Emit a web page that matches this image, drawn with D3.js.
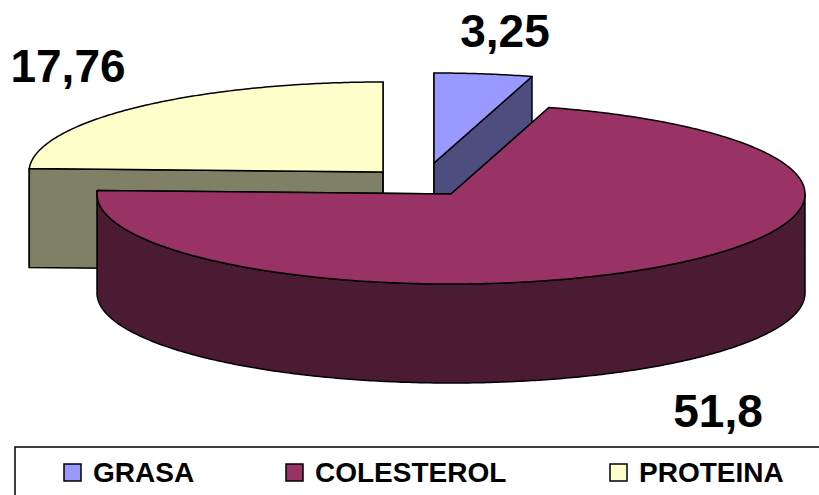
<!DOCTYPE html>
<html><head><meta charset="utf-8">
<script src="https://cdn.jsdelivr.net/npm/d3@7"></script>
<style>html,body{margin:0;padding:0;background:#fff;}svg{display:block;}</style>
</head><body>
<svg id="c" width="819" height="495"></svg>
<script>
const categories = ["GRASA", "COLESTEROL", "PROTEINA"];
const values = [3.25, 51.8, 17.76];
const topColors = ["#9999FF", "#993366", "#FFFFCC"];
const sideColors = ["#4D4D80", "#4B1A33", "#808066"];

const W = 819, H = 495;
const cx = 451, cy = 194, rx = 354, ry = 90, depth = 99;
// explosion offsets (layout) per slice
const offsets = [[-17, -31], [0, 0], [-68, -22]];
// label anchor positions (layout)
const labelPos = [[505, 47], [718, 427], [68, 82]];

const svg = d3.select("#c");
const pie = d3.pie().sort(null).value(d => d)(values);

function pt(a, dx, dy, z) {
  return [cx + dx + rx * Math.sin(a), cy + dy - ry * Math.cos(a) + z];
}
function arcPts(a0, a1, dx, dy, z) {
  const n = Math.max(2, Math.ceil(Math.abs(a1 - a0) / 0.01));
  return d3.range(n + 1).map(i => pt(a0 + (a1 - a0) * i / n, dx, dy, z));
}
const line = d3.line();
const stroke = "#000", sw = 1.5;

// draw order: back to front
const order = [2, 0, 1];
order.forEach(i => {
  const p = pie[i];
  const [dx, dy] = offsets[i];
  const c0 = [cx + dx, cy + dy];
  const g = svg.append("g");
  // radial faces
  [p.startAngle, p.endAngle].forEach(a => {
    const r0 = pt(a, dx, dy, 0), r1 = pt(a, dx, dy, depth);
    g.append("path")
      .attr("d", line([c0, r0, r1, [c0[0], c0[1] + depth]]) + "Z")
      .attr("fill", sideColors[i]).attr("stroke", stroke).attr("stroke-width", sw).attr("stroke-linejoin", "round");
  });
  // outer side (front half only)
  const s0 = Math.max(p.startAngle, Math.PI / 2);
  const s1 = Math.min(p.endAngle, 3 * Math.PI / 2 + 0.04);
  if (s1 > s0) {
    const topArc = arcPts(s0, s1, dx, dy, 0);
    const botArc = arcPts(s1, s0, dx, dy, depth);
    g.append("path")
      .attr("d", line(topArc.concat(botArc)) + "Z")
      .attr("fill", sideColors[i]).attr("stroke", stroke).attr("stroke-width", sw).attr("stroke-linejoin", "round");
  }
  // top face
  const topPts = [c0].concat(arcPts(p.startAngle, p.endAngle, dx, dy, 0));
  g.append("path")
    .attr("d", line(topPts) + "Z")
    .attr("fill", topColors[i]).attr("stroke", stroke).attr("stroke-width", sw).attr("stroke-linejoin", "round");
});

// data labels
svg.selectAll("text.lbl").data(values).enter().append("text")
  .attr("class", "lbl")
  .attr("x", (d, i) => labelPos[i][0])
  .attr("y", (d, i) => labelPos[i][1])
  .attr("text-anchor", "middle")
  .attr("font-family", "Liberation Sans, Arial, sans-serif")
  .attr("font-weight", "bold")
  .attr("font-size", 46)
  .attr("fill", "#000")
  .text(d => String(d).replace(".", ","));

// legend
const lg = svg.append("g");
lg.append("rect").attr("x", 15).attr("y", 447).attr("width", 830).attr("height", 80)
  .attr("fill", "#fff").attr("stroke", "#000").attr("stroke-width", 1.5);
const legX = [64, 286, 610];
categories.forEach((c, i) => {
  lg.append("rect").attr("x", legX[i]).attr("y", 464).attr("width", 17).attr("height", 17)
    .attr("fill", topColors[i]).attr("stroke", "#000").attr("stroke-width", 1.5);
  lg.append("text").attr("x", legX[i] + 29).attr("y", 482)
    .attr("font-family", "Liberation Sans, Arial, sans-serif")
    .attr("font-weight", "bold").attr("font-size", 28).attr("fill", "#000")
    .text(c);
});
</script>
</body></html>
